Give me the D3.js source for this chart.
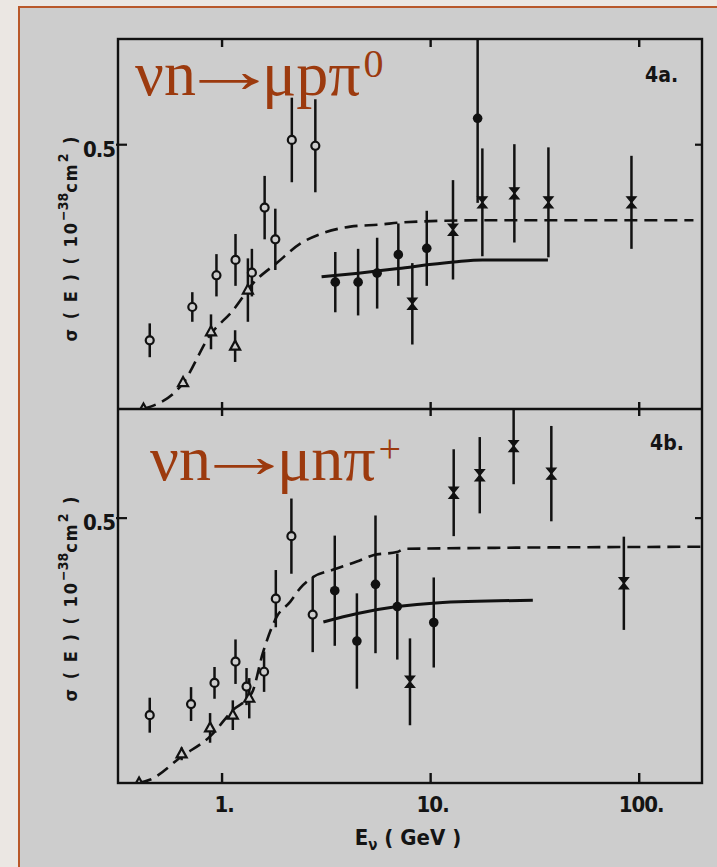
<!DOCTYPE html>
<html>
<head>
<meta charset="utf-8">
<script src="https://cdn.jsdelivr.net/npm/d3@7"></script>
<style>
  html, body { margin: 0; padding: 0; background: #ebe7e3; }
  svg { display: block; }
  .num { font-family: "Liberation Sans Narrow", "DejaVu Sans Condensed", sans-serif; font-weight: bold; fill: #141414; }
  .reaction { font-family: "Liberation Serif", "DejaVu Serif", serif; fill: #9c3a0e; }
</style>
</head>
<body>
<svg id="chart"></svg>
<script>
// E in GeV, sigma in 1e-38 cm^2; points are [E, sigma, error]
const aCircles = [[0.45, 0.130, 0.032], [0.72, 0.193, 0.028], [0.94, 0.253, 0.040], [1.16, 0.282, 0.049],
  [1.39, 0.258, 0.045], [1.60, 0.381, 0.060], [1.80, 0.321, 0.058], [2.16, 0.509, 0.080], [2.80, 0.498, 0.088]];
const aTriangles = [[0.42, 0.0, 0], [0.65, 0.050, 0], [0.885, 0.146, 0.033], [1.155, 0.119, 0.030], [1.33, 0.225, 0.060]];
const aDots = [[3.49, 0.240, 0.057], [4.49, 0.240, 0.063], [5.54, 0.257, 0.067], [7.0, 0.292, 0.059],
  [9.58, 0.304, 0.071], [16.8, 0.550, 0.160]];
const aCrosses = [[8.17, 0.199, 0.077], [12.8, 0.339, 0.094], [17.7, 0.391, 0.102], [25.2, 0.408, 0.093],
  [36.7, 0.391, 0.104], [91.8, 0.391, 0.088]];
const aDashed = [[0.42, 0.0], [0.65, 0.049], [0.876, 0.140], [1.13, 0.187], [1.41, 0.238], [1.84, 0.277],
  [2.37, 0.313], [2.96, 0.331], [4.12, 0.345], [5.75, 0.349], [7.3, 0.353], [17, 0.357], [182, 0.357]];
const aSolid = [[3.0, 0.250], [4.5, 0.257], [7.0, 0.266], [12.9, 0.278], [17.7, 0.282], [36.5, 0.282]];

const bCircles = [[0.45, 0.128, 0.033], [0.71, 0.149, 0.032], [0.92, 0.189, 0.030], [1.16, 0.229, 0.042],
  [1.31, 0.182, 0.035], [1.59, 0.210, 0.038], [1.81, 0.348, 0.054], [2.15, 0.466, 0.071], [2.72, 0.318, 0.071]];
const bTriangles = [[0.40, 0.0, 0], [0.64, 0.055, 0.012], [0.876, 0.104, 0.028], [1.126, 0.128, 0.028], [1.35, 0.160, 0.038]];
const bDots = [[3.47, 0.363, 0.104], [4.43, 0.268, 0.090], [5.44, 0.375, 0.130], [6.92, 0.333, 0.100], [10.35, 0.303, 0.085]];
const bCrosses = [[7.96, 0.191, 0.082], [12.9, 0.548, 0.082], [17.2, 0.581, 0.072], [25.0, 0.636, 0.072],
  [37.9, 0.584, 0.090], [84.4, 0.377, 0.088]];
const bDashed = [[0.40, 0.0], [0.45, 0.006], [0.64, 0.050], [0.876, 0.088], [1.13, 0.138], [1.39, 0.170],
  [1.57, 0.246], [1.83, 0.314], [2.12, 0.342], [2.37, 0.368], [2.74, 0.389], [3.37, 0.402], [4.43, 0.418],
  [5.3, 0.430], [6.9, 0.436], [7.5, 0.442], [199, 0.446]];
const bSolid = [[3.06, 0.304], [4.46, 0.320], [6.92, 0.333], [10.6, 0.340], [30.9, 0.345]];

const xTicks = [1, 10, 100];
const xTickLabels = ['1.', '10.', '100.'];
const yTicks = [0.5];
const yTickLabels = ['0.5'];
const panelTags = ['4a.', '4b.'];
const reactionInitial = ['νn', 'νn'];
const reactionFinal = ['μpπ', 'μnπ'];
const reactionCharges = ['0', '+'];

const W = 717, H = 867;
const frame = { left: 118, right: 702, top: 39, mid: 409, bottom: 783 };

const svg = d3.select('#chart').attr('width', W).attr('height', H);

svg.append('rect')
  .attr('x', 19).attr('y', 7).attr('width', W).attr('height', H)
  .attr('fill', '#cdcdcd').attr('stroke', '#b9582a').attr('stroke-width', 2);

const x = d3.scaleLog().domain([0.317, 200]).range([frame.left, frame.right]);

const panels = [
  { y: d3.scaleLinear().domain([0, 0.7]).range([frame.mid, frame.top]), top: frame.top, bottom: frame.mid,
    circles: aCircles, triangles: aTriangles, dots: aDots, crosses: aCrosses, dashed: aDashed, solid: aSolid },
  { y: d3.scaleLinear().domain([0, 0.706]).range([frame.bottom, frame.mid]), top: frame.mid, bottom: frame.bottom,
    circles: bCircles, triangles: bTriangles, dots: bDots, crosses: bCrosses, dashed: bDashed, solid: bSolid }
];

const reactionPos = [[135, 95], [150, 480]];
const tagPos = [[645, 82], [650, 450]];
const labelCenter = [238, 598];

function drawReaction(i) {
  const [x0, y0] = reactionPos[i];
  const t = svg.append('text').attr('class', 'reaction')
    .attr('x', x0).attr('y', y0).style('font-size', '64px');
  t.append('tspan').text(reactionInitial[i]);
  // long thin arrow: stretch the glyph (ink ~0.6 of its advance) so the ink is ~60px
  t.append('tspan')
    .attr('dx', -17).attr('dy', -3)
    .attr('textLength', 100).attr('lengthAdjust', 'spacingAndGlyphs')
    .text('→');
  t.append('tspan').attr('dx', -17).attr('dy', 3).text(reactionFinal[i]);
  t.append('tspan').attr('dx', 3).attr('dy', -18).style('font-size', '40px').text(reactionCharges[i]);
}

panels.forEach((p, i) => {
  const clipId = 'clip' + i;
  svg.append('clipPath').attr('id', clipId)
    .append('rect').attr('x', frame.left).attr('y', p.top)
    .attr('width', frame.right - frame.left).attr('height', p.bottom - p.top);

  const g = svg.append('g').attr('clip-path', `url(#${clipId})`);

  const line = d3.line().x(d => x(d[0])).y(d => p.y(d[1])).curve(d3.curveMonotoneX);

  g.append('path').datum(p.dashed)
    .attr('d', line).attr('fill', 'none').attr('stroke', '#111')
    .attr('stroke-width', 2.6).attr('stroke-dasharray', '13,7');

  g.append('path').datum(p.solid)
    .attr('d', line).attr('fill', 'none').attr('stroke', '#111').attr('stroke-width', 3);

  const all = [].concat(p.circles, p.triangles, p.dots, p.crosses).filter(d => d[2] > 0);
  g.selectAll('.err').data(all).join('line')
    .attr('class', 'err')
    .attr('x1', d => x(d[0])).attr('x2', d => x(d[0]))
    .attr('y1', d => p.y(d[1] + d[2])).attr('y2', d => p.y(d[1] - d[2]))
    .attr('stroke', '#111').attr('stroke-width', 2.5);

  g.selectAll('.circ').data(p.circles).join('circle')
    .attr('class', 'circ')
    .attr('cx', d => x(d[0])).attr('cy', d => p.y(d[1])).attr('r', 4)
    .attr('fill', '#cdcdcd').attr('stroke', '#111').attr('stroke-width', 2.2);

  g.selectAll('.tri').data(p.triangles).join('path')
    .attr('class', 'tri')
    .attr('transform', d => `translate(${x(d[0])},${p.y(d[1])})`)
    .attr('d', 'M0,-5.5L5,3.5H-5Z')
    .attr('fill', '#cdcdcd').attr('stroke', '#111').attr('stroke-width', 2.2);

  g.selectAll('.dot').data(p.dots).join('circle')
    .attr('class', 'dot')
    .attr('cx', d => x(d[0])).attr('cy', d => p.y(d[1])).attr('r', 4.8)
    .attr('fill', '#111');

  g.selectAll('.cross').data(p.crosses).join('path')
    .attr('class', 'cross')
    .attr('transform', d => `translate(${x(d[0])},${p.y(d[1])})`)
    .attr('d', 'M-4.5,-5.5H4.5L-4.5,5.5H4.5Z')
    .attr('fill', '#111').attr('stroke', '#111').attr('stroke-width', 1.4);

  // ticks
  xTicks.forEach(t => {
    if (i === 0) {
      svg.append('line').attr('x1', x(t)).attr('x2', x(t)).attr('y1', frame.top).attr('y2', frame.top + 8)
        .attr('stroke', '#111').attr('stroke-width', 2.4);
      svg.append('line').attr('x1', x(t)).attr('x2', x(t)).attr('y1', frame.mid - 7).attr('y2', frame.mid + 7)
        .attr('stroke', '#111').attr('stroke-width', 2.4);
    } else {
      svg.append('line').attr('x1', x(t)).attr('x2', x(t)).attr('y1', frame.bottom - 10).attr('y2', frame.bottom)
        .attr('stroke', '#111').attr('stroke-width', 2.4);
    }
  });
  yTicks.forEach((t, k) => {
    svg.append('line').attr('x1', frame.left - 2).attr('x2', frame.left + 9).attr('y1', p.y(t)).attr('y2', p.y(t))
      .attr('stroke', '#111').attr('stroke-width', 2.2);
    svg.append('line').attr('x1', frame.right - 7).attr('x2', frame.right).attr('y1', p.y(t)).attr('y2', p.y(t))
      .attr('stroke', '#111').attr('stroke-width', 2.2);
    svg.append('text').attr('class', 'num')
      .attr('x', frame.left - 3).attr('y', p.y(t) + 12)
      .attr('text-anchor', 'end').style('font-size', '22px').style('letter-spacing', '-1px')
      .text(yTickLabels[k]);
  });

  // y label
  const yl = svg.append('text').attr('class', 'num')
    .attr('transform', `translate(77,${labelCenter[i]}) rotate(-90)`)
    .attr('text-anchor', 'middle').style('font-size', '18px').style('letter-spacing', '2px');
  yl.append('tspan').text('σ ( E )  ( 10');
  yl.append('tspan').attr('dy', -9).style('font-size', '14px').style('letter-spacing', '0px').text('−38');
  yl.append('tspan').attr('dy', 9).text('cm');
  yl.append('tspan').attr('dy', -9).style('font-size', '14px').text('2');
  yl.append('tspan').attr('dy', 9).text(' )');

  svg.append('text').attr('class', 'num')
    .attr('x', tagPos[i][0]).attr('y', tagPos[i][1])
    .style('font-size', '21px').text(panelTags[i]);

  drawReaction(i);
});

// frame
svg.append('rect')
  .attr('x', frame.left).attr('y', frame.top)
  .attr('width', frame.right - frame.left).attr('height', frame.bottom - frame.top)
  .attr('fill', 'none').attr('stroke', '#111').attr('stroke-width', 2.4);
svg.append('line').attr('x1', frame.left).attr('x2', frame.right).attr('y1', frame.mid).attr('y2', frame.mid)
  .attr('stroke', '#111').attr('stroke-width', 2.4);

// x tick labels
svg.selectAll('.xlab').data(xTicks).join('text')
  .attr('class', 'num xlab')
  .attr('x', d => x(d) + 2).attr('y', 812)
  .attr('text-anchor', 'middle').style('font-size', '22px').style('letter-spacing', '-1px')
  .text((d, k) => xTickLabels[k]);

const xl = svg.append('text').attr('class', 'num')
  .attr('x', 408).attr('y', 845).attr('text-anchor', 'middle').style('font-size', '22px');
xl.append('tspan').text('E');
xl.append('tspan').attr('dy', 5).style('font-size', '15px').text('ν');
xl.append('tspan').attr('dy', -5).text(' ( GeV )');
</script>
</body>
</html>
